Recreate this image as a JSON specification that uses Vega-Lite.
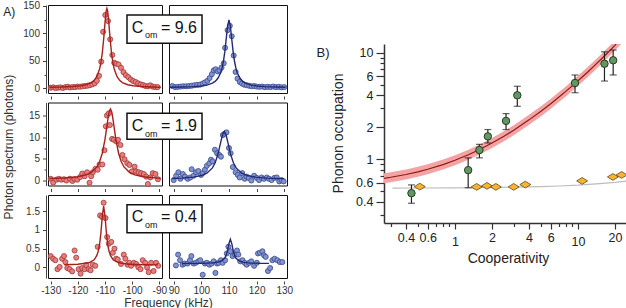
{
  "$schema": "https://vega.github.io/schema/vega-lite/v6.json",
  "padding": {"left": 1, "top": 0, "right": 0, "bottom": 0},
  "background": "white",
  "config": {
    "font": "Liberation Sans",
    "view": {"stroke": "#111", "strokeWidth": 1},
    "axis": {"grid": false, "labelColor": "#333", "tickColor": "#444", "domainColor": "#444", "labelFont": "Liberation Sans", "titleFont": "Liberation Sans", "titleFontWeight": "normal", "titleColor": "#333", "labelFontSize": 10, "labelFlush": false, "labelOverlap": false, "tickWidth": 1, "domainWidth": 1}
  },
  "spacing": 336,
  "bounds": "flush",
  "hconcat": [
    {
      "columns": 2,
      "spacing": {"row": 9.5, "column": 7},
      "bounds": "flush",
      "concat": [
            {
              "width": 114, "height": 88,
              "encoding": {
                "x": {"field": "f", "type": "quantitative", "scale": {"domain": [-131, -89], "nice": false, "zero": false}, "axis": {"values": [-130, -120, -110, -100, -90], "labels": false, "tickSize": 3, "offset": 3, "domain": false, "title": null}},
                "y": {"field": "v", "type": "quantitative", "scale": {"domain": [-8.2, 151.8], "nice": false, "zero": false}, "axis": {"values": [0, 25, 50, 75, 100, 125, 150], "labelExpr": "datum.value % 50 == 0 ? datum.value + '' : ''", "tickSize": {"condition": {"test": "datum.value % 50 == 0", "value": 3.5}, "value": 2}, "offset": 2, "labelPadding": 3, "title": null}}
              },
              "layer": [
                {"data": {"values": [{"f":-130,"v":1.5},{"f":-129.1,"v":2},{"f":-128.2,"v":0.8},{"f":-127.3,"v":1.5},{"f":-126.4,"v":2},{"f":-125.5,"v":1},{"f":-124.6,"v":2.5},{"f":-123.7,"v":3},{"f":-122.8,"v":1.8},{"f":-121.9,"v":2.8},{"f":-121,"v":2.5},{"f":-120.1,"v":3.5},{"f":-119.2,"v":3.2},{"f":-118.3,"v":4},{"f":-117.4,"v":4.5},{"f":-116.5,"v":5},{"f":-115.6,"v":6},{"f":-114.7,"v":7.5},{"f":-113.8,"v":9.5},{"f":-113,"v":14},{"f":-112.2,"v":23},{"f":-111.4,"v":48.8},{"f":-110.7,"v":103},{"f":-109.9,"v":133.6},{"f":-108.9,"v":122.7},{"f":-108.1,"v":89.4},{"f":-107.3,"v":61},{"f":-106.6,"v":46.8},{"f":-105.8,"v":45},{"f":-105,"v":43.6},{"f":-104.1,"v":37.6},{"f":-103.2,"v":29.7},{"f":-102.3,"v":24.2},{"f":-101.4,"v":20.6},{"f":-100.5,"v":16.4},{"f":-99.6,"v":13.6},{"f":-98.7,"v":11.8},{"f":-97.8,"v":9.4},{"f":-96.9,"v":7.6},{"f":-96,"v":6.4},{"f":-95.1,"v":4.5},{"f":-94.2,"v":3.9},{"f":-93.3,"v":5.8},{"f":-92.4,"v":3.3},{"f":-91.5,"v":2.7},{"f":-90.6,"v":2.5}]},
                 "mark": {"type": "circle", "size": 26, "fill": "#ec7b7b", "stroke": "#9b3b3b", "strokeWidth": 0.8, "opacity": 1}},
                {"data": {"values": [{"f":-130.5,"v":2.2},{"f":-126,"v":2.65},{"f":-122,"v":3.5},{"f":-119,"v":4.9},{"f":-117,"v":6.8},{"f":-115,"v":10.8},{"f":-114,"v":14.8},{"f":-113,"v":21.8},{"f":-112,"v":35.5},{"f":-111.5,"v":47.2},{"f":-111,"v":64.5},{"f":-110.5,"v":89.3},{"f":-110,"v":119.7},{"f":-109.6,"v":140},{"f":-109.3,"v":145.5},{"f":-109,"v":140},{"f":-108.6,"v":119.7},{"f":-108.1,"v":89.3},{"f":-107.6,"v":64.5},{"f":-107.1,"v":47.2},{"f":-106.6,"v":35.5},{"f":-105.6,"v":21.8},{"f":-104.6,"v":14.8},{"f":-103.6,"v":10.8},{"f":-101.6,"v":6.8},{"f":-99.6,"v":4.9},{"f":-96.6,"v":3.5},{"f":-92.6,"v":2.65},{"f":-89.5,"v":2.3}]},
                 "mark": {"type": "line", "color": "#a8201a", "strokeWidth": 1.4}},
                {"data": {"values": [{"f": -147.5, "v": 139, "t": "A)"}]},
                 "mark": {"type": "text", "align": "left", "baseline": "middle", "fontSize": 12, "color": "#222"},
                 "encoding": {"text": {"field": "t"}}}
              ]
            },
            {
              "width": 118, "height": 88,
              "encoding": {
                "x": {"field": "f", "type": "quantitative", "scale": {"domain": [88.3, 131], "nice": false, "zero": false}, "axis": {"values": [90, 100, 110, 120, 130], "labels": false, "tickSize": 3, "offset": 3, "domain": false, "title": null}},
                "y": {"field": "v", "type": "quantitative", "scale": {"domain": [-8.2, 151.8], "nice": false, "zero": false}, "axis": null}
              },
              "layer": [
                {"data": {"values": [{"f":89.5,"v":4.5},{"f":90.5,"v":2.5},{"f":91.5,"v":3},{"f":92.5,"v":3.5},{"f":93.5,"v":4},{"f":94.5,"v":4},{"f":95.5,"v":4.5},{"f":96.5,"v":5},{"f":97.5,"v":6},{"f":98.5,"v":6.5},{"f":99.5,"v":7},{"f":100.5,"v":9},{"f":101.3,"v":11},{"f":102.2,"v":14},{"f":103,"v":19},{"f":103.8,"v":26},{"f":104.5,"v":33},{"f":105.2,"v":35},{"f":105.9,"v":31},{"f":106.6,"v":33},{"f":107.3,"v":38},{"f":108.1,"v":46},{"f":108.6,"v":74},{"f":109.5,"v":106},{"f":110.3,"v":114},{"f":111,"v":95},{"f":111.7,"v":60},{"f":112.4,"v":30},{"f":113.1,"v":18},{"f":113.9,"v":12},{"f":114.7,"v":9},{"f":115.5,"v":7},{"f":116.4,"v":6},{"f":117.3,"v":5},{"f":118.2,"v":4},{"f":119.1,"v":4.5},{"f":120,"v":3.5},{"f":121,"v":3},{"f":122,"v":3.5},{"f":123,"v":2.5},{"f":124,"v":3},{"f":125,"v":2.5},{"f":126,"v":3.5},{"f":127,"v":2.5},{"f":128,"v":3},{"f":129,"v":2},{"f":130,"v":2.5}]},
                 "mark": {"type": "circle", "size": 26, "fill": "#7f93d4", "stroke": "#3c4a86", "strokeWidth": 0.8, "opacity": 1}},
                {"data": {"values": [{"f":88.5,"v":2.2},{"f":93,"v":2.6},{"f":97,"v":3.3},{"f":100,"v":4.6},{"f":102,"v":6.2},{"f":104,"v":9.7},{"f":105,"v":12.9},{"f":106,"v":18.5},{"f":107,"v":28.7},{"f":107.5,"v":37.3},{"f":108,"v":49.5},{"f":108.5,"v":67},{"f":109,"v":90},{"f":109.5,"v":113.5},{"f":110,"v":124.5},{"f":110.5,"v":113.5},{"f":111,"v":90},{"f":111.5,"v":67},{"f":112,"v":49.5},{"f":112.5,"v":37.3},{"f":113,"v":28.7},{"f":114,"v":18.5},{"f":115,"v":12.9},{"f":116,"v":9.7},{"f":118,"v":6.2},{"f":120,"v":4.6},{"f":123,"v":3.3},{"f":127,"v":2.6},{"f":130.5,"v":2.2}]},
                 "mark": {"type": "line", "color": "#232a78", "strokeWidth": 1.4}},
                {"data": {"values": [{"f": 73.1, "f2": 100.25, "v": 82.2, "v2": 133.6}]},
                 "mark": {"type": "rect", "fill": "white", "stroke": "#111", "strokeWidth": 1.5},
                 "encoding": {"x2": {"field": "f2"}, "y2": {"field": "v2"}}},
                {"data": {"values": [{"f": 74.8, "v": 101.5, "t": "C"}, {"f": 85.4, "v": 101.5, "t": "= 9.6"}]},
                 "mark": {"type": "text", "align": "left", "baseline": "alphabetic", "fontSize": 16, "color": "#111"},
                 "encoding": {"text": {"field": "t"}}},
                {"data": {"values": [{"f": 79.6, "v": 91.3, "t": "om"}]},
                 "mark": {"type": "text", "align": "left", "baseline": "alphabetic", "fontSize": 9, "color": "#111"},
                 "encoding": {"text": {"field": "t"}}}
              ]
            },
            {
              "width": 114, "height": 83,
              "encoding": {
                "x": {"field": "f", "type": "quantitative", "scale": {"domain": [-131, -89], "nice": false, "zero": false}, "axis": {"values": [-130, -120, -110, -100, -90], "labels": false, "tickSize": 3, "offset": 3, "domain": false, "title": null}},
                "y": {"field": "v", "type": "quantitative", "scale": {"domain": [-1.15, 18.0], "nice": false, "zero": false}, "axis": {"values": [0, 2.5, 5, 7.5, 10, 12.5, 15], "labelExpr": "datum.value % 5 == 0 ? datum.value + '' : ''", "tickSize": {"condition": {"test": "datum.value % 5 == 0", "value": 3.5}, "value": 2}, "offset": 2, "labelPadding": 3, "title": "Photon spectrum (photons)", "titleFontSize": 12, "titleX": -38, "titleY": 44, "titleBaseline": "middle"}}
              },
              "layer": [
                {"data": {"values": [{"f":-130,"v":0.4},{"f":-129.1,"v":-0.5},{"f":-127.9,"v":0.2},{"f":-127,"v":0.4},{"f":-126.1,"v":0.2},{"f":-125.1,"v":0.3},{"f":-124.2,"v":0},{"f":-123,"v":0.4},{"f":-122,"v":-0.1},{"f":-121.2,"v":0.3},{"f":-120.2,"v":0.2},{"f":-119.2,"v":0.8},{"f":-118.4,"v":1.6},{"f":-117.5,"v":1.0},{"f":-116.6,"v":1.9},{"f":-115.7,"v":-0.5},{"f":-115.1,"v":1.0},{"f":-114.5,"v":1.9},{"f":-113.5,"v":2.7},{"f":-112.7,"v":2.5},{"f":-112,"v":3.7},{"f":-111,"v":3.7},{"f":-110.2,"v":7.0},{"f":-109.7,"v":12.5},{"f":-109.3,"v":15.0},{"f":-108.6,"v":15.5},{"f":-108.2,"v":12.8},{"f":-107.4,"v":9.6},{"f":-106.7,"v":9.4},{"f":-105.8,"v":9.0},{"f":-105.2,"v":9.4},{"f":-104.3,"v":8.2},{"f":-103.6,"v":5.9},{"f":-102.8,"v":4.9},{"f":-101.8,"v":4.0},{"f":-101,"v":3.6},{"f":-100.1,"v":2.1},{"f":-99.1,"v":3.2},{"f":-98.5,"v":2.1},{"f":-97.6,"v":1.9},{"f":-96.7,"v":1.7},{"f":-95.7,"v":1.5},{"f":-94.8,"v":0.9},{"f":-94.2,"v":-0.8},{"f":-93.3,"v":0.7},{"f":-92.4,"v":1.7},{"f":-91.4,"v":1.5},{"f":-90.5,"v":0.3}]},
                 "mark": {"type": "circle", "size": 26, "fill": "#ec7b7b", "stroke": "#9b3b3b", "strokeWidth": 0.8, "opacity": 1}},
                {"data": {"values": [{"f":-130.5,"v":0.48},{"f":-125,"v":0.59},{"f":-120,"v":0.87},{"f":-117,"v":1.29},{"f":-115,"v":1.88},{"f":-113,"v":3.13},{"f":-112,"v":4.33},{"f":-111,"v":6.3},{"f":-110,"v":9.5},{"f":-109.5,"v":11.7},{"f":-109,"v":13.9},{"f":-108.5,"v":15.8},{"f":-108,"v":16.5},{"f":-107.5,"v":15.8},{"f":-107,"v":13.9},{"f":-106.5,"v":11.7},{"f":-106,"v":9.5},{"f":-105,"v":6.3},{"f":-104,"v":4.33},{"f":-103,"v":3.13},{"f":-101,"v":1.88},{"f":-99,"v":1.29},{"f":-96,"v":0.87},{"f":-91,"v":0.59},{"f":-89.5,"v":0.53}]},
                 "mark": {"type": "line", "color": "#a8201a", "strokeWidth": 1.4}}
              ]
            },
            {
              "width": 118, "height": 83,
              "encoding": {
                "x": {"field": "f", "type": "quantitative", "scale": {"domain": [88.3, 131], "nice": false, "zero": false}, "axis": {"values": [90, 100, 110, 120, 130], "labels": false, "tickSize": 3, "offset": 3, "domain": false, "title": null}},
                "y": {"field": "v", "type": "quantitative", "scale": {"domain": [-1.15, 18.0], "nice": false, "zero": false}, "axis": null}
              },
              "layer": [
                {"data": {"values": [{"f":90,"v":0.1},{"f":90.9,"v":1.1},{"f":91.7,"v":1.9},{"f":92.4,"v":0.4},{"f":93.3,"v":1.5},{"f":94.1,"v":0.9},{"f":95.1,"v":0.4},{"f":96,"v":0.7},{"f":96.5,"v":2.6},{"f":97.2,"v":1.1},{"f":98.1,"v":1.9},{"f":98.9,"v":2.2},{"f":99.9,"v":1.3},{"f":100.5,"v":1.7},{"f":101.3,"v":2.5},{"f":102,"v":3.4},{"f":102.9,"v":4.0},{"f":103.5,"v":4.8},{"f":104.1,"v":4.4},{"f":104.9,"v":7.1},{"f":105.7,"v":6.3},{"f":106.5,"v":5.9},{"f":107.1,"v":5.5},{"f":107.8,"v":10.5},{"f":108.4,"v":10.8},{"f":109.1,"v":11.1},{"f":110,"v":7.5},{"f":110.6,"v":6.3},{"f":111.4,"v":3.1},{"f":112.4,"v":1.9},{"f":113.2,"v":1.3},{"f":113.9,"v":0.7},{"f":114.8,"v":1.7},{"f":115.7,"v":0.4},{"f":116.4,"v":0.9},{"f":117.2,"v":0.6},{"f":118.1,"v":0},{"f":119.1,"v":1.1},{"f":120.1,"v":0.6},{"f":120.9,"v":0.1},{"f":121.8,"v":0.7},{"f":122.7,"v":0.4},{"f":123.7,"v":0.7},{"f":124.5,"v":0.4},{"f":125.4,"v":0.1},{"f":126.4,"v":0.6},{"f":127.3,"v":0.7},{"f":128.2,"v":-0.2},{"f":129,"v":0.1},{"f":129.8,"v":-0.2}]},
                 "mark": {"type": "circle", "size": 26, "fill": "#7f93d4", "stroke": "#3c4a86", "strokeWidth": 0.8, "opacity": 1}},
                {"data": {"values": [{"f":89.5,"v":0.47},{"f":93,"v":0.56},{"f":97,"v":0.77},{"f":100,"v":1.15},{"f":102,"v":1.69},{"f":104,"v":2.91},{"f":105,"v":4.1},{"f":106,"v":6.03},{"f":107,"v":8.8},{"f":107.7,"v":10.65},{"f":108.3,"v":11.3},{"f":108.9,"v":10.65},{"f":109.6,"v":8.8},{"f":110.6,"v":6.03},{"f":111.6,"v":4.1},{"f":112.6,"v":2.91},{"f":114.6,"v":1.69},{"f":116.6,"v":1.15},{"f":119.6,"v":0.77},{"f":123.6,"v":0.56},{"f":130,"v":0.43}]},
                 "mark": {"type": "line", "color": "#232a78", "strokeWidth": 1.4}},
                {"data": {"values": [{"f": 73.1, "f2": 100.25, "v": 9.53, "v2": 15.53}]},
                 "mark": {"type": "rect", "fill": "white", "stroke": "#111", "strokeWidth": 1.5},
                 "encoding": {"x2": {"field": "f2"}, "y2": {"field": "v2"}}},
                {"data": {"values": [{"f": 74.8, "v": 11.45, "t": "C"}, {"f": 85.4, "v": 11.45, "t": "= 1.9"}]},
                 "mark": {"type": "text", "align": "left", "baseline": "alphabetic", "fontSize": 16, "color": "#111"},
                 "encoding": {"text": {"field": "t"}}},
                {"data": {"values": [{"f": 79.6, "v": 10.15, "t": "om"}]},
                 "mark": {"type": "text", "align": "left", "baseline": "alphabetic", "fontSize": 9, "color": "#111"},
                 "encoding": {"text": {"field": "t"}}}
              ]
            },
            {
              "width": 114, "height": 83,
              "encoding": {
                "x": {"field": "f", "type": "quantitative", "scale": {"domain": [-131, -89], "nice": false, "zero": false}, "axis": {"values": [-130, -120, -110, -100, -90], "labelExpr": "datum.value + ''", "labelPadding": 1, "tickSize": 3, "offset": 3, "domain": false, "title": "Frequency (kHz)", "titleFontSize": 12, "titleX": 120, "titleY": 21, "titleBaseline": "middle"}},
                "y": {"field": "v", "type": "quantitative", "scale": {"domain": [-0.287, 1.937], "nice": false, "zero": false}, "axis": {"values": [0, 0.5, 1, 1.5], "labelExpr": "datum.value + ''", "tickSize": 3.5, "offset": 2, "labelPadding": 3, "title": null}}
              },
              "layer": [
                {"data": {"values": [{"f":-130,"v":0.30},{"f":-129.1,"v":0.23},{"f":-128.3,"v":0.19},{"f":-127.5,"v":-0.05},{"f":-126.7,"v":0.01},{"f":-125.8,"v":0.23},{"f":-125.1,"v":0.30},{"f":-124.6,"v":0.14},{"f":-123.9,"v":-0.02},{"f":-123,"v":-0.05},{"f":-122.1,"v":-0.11},{"f":-121.2,"v":0.45},{"f":-120.6,"v":0.26},{"f":-119.7,"v":-0.05},{"f":-119,"v":-0.17},{"f":-118.4,"v":-0.02},{"f":-117.5,"v":-0.05},{"f":-116.9,"v":0.06},{"f":-116,"v":-0.05},{"f":-115.3,"v":-0.08},{"f":-114.5,"v":0.07},{"f":-113.6,"v":0.04},{"f":-112.7,"v":0.55},{"f":-111.8,"v":1.39},{"f":-111.1,"v":1.35},{"f":-110.5,"v":1.73},{"f":-109.8,"v":1.32},{"f":-109.2,"v":0.81},{"f":-108.6,"v":0.63},{"f":-107.7,"v":0.68},{"f":-107.1,"v":0.39},{"f":-106.5,"v":0.5},{"f":-105.9,"v":0.23},{"f":-105.3,"v":0.21},{"f":-104.1,"v":0.09},{"f":-103.1,"v":0.34},{"f":-102.5,"v":0.23},{"f":-101.7,"v":0.07},{"f":-101,"v":0.12},{"f":-100.4,"v":0.04},{"f":-99.4,"v":0.12},{"f":-98.5,"v":0.09},{"f":-97.7,"v":0.0},{"f":-96.9,"v":-0.05},{"f":-96.1,"v":0.19},{"f":-95.2,"v":0.12},{"f":-94.5,"v":0.0},{"f":-93.9,"v":-0.13},{"f":-93,"v":0.12},{"f":-92.1,"v":-0.1},{"f":-91.2,"v":0.12},{"f":-90.4,"v":0.04}]},
                 "mark": {"type": "circle", "size": 26, "fill": "#ec7b7b", "stroke": "#9b3b3b", "strokeWidth": 0.8, "opacity": 1}},
                {"data": {"values": [{"f":-125,"v":0.07},{"f":-120,"v":0.08},{"f":-116,"v":0.12},{"f":-114,"v":0.20},{"f":-113,"v":0.32},{"f":-112.5,"v":0.43},{"f":-112,"v":0.61},{"f":-111.5,"v":0.93},{"f":-111,"v":1.37},{"f":-110.5,"v":1.64},{"f":-110,"v":1.37},{"f":-109.5,"v":0.93},{"f":-109,"v":0.61},{"f":-108.5,"v":0.43},{"f":-108,"v":0.32},{"f":-107,"v":0.20},{"f":-105,"v":0.12},{"f":-101,"v":0.08},{"f":-95,"v":0.067},{"f":-90.5,"v":0.064}]},
                 "mark": {"type": "line", "color": "#a8201a", "strokeWidth": 1.4}}
              ]
            },
            {
              "width": 118, "height": 83,
              "encoding": {
                "x": {"field": "f", "type": "quantitative", "scale": {"domain": [88.3, 131], "nice": false, "zero": false}, "axis": {"values": [90, 100, 110, 120, 130], "labelExpr": "datum.value + ''", "labelPadding": 1, "tickSize": 3, "offset": 3, "domain": false, "title": null}},
                "y": {"field": "v", "type": "quantitative", "scale": {"domain": [-0.287, 1.937], "nice": false, "zero": false}, "axis": null}
              },
              "layer": [
                {"data": {"values": [{"f":90.8,"v":0.05},{"f":91.6,"v":0.34},{"f":92.3,"v":0.19},{"f":93.2,"v":0.07},{"f":94,"v":0.1},{"f":95,"v":0.1},{"f":95.9,"v":0.19},{"f":96.4,"v":0.3},{"f":97.2,"v":0.1},{"f":98,"v":0.12},{"f":98.9,"v":0.16},{"f":99.6,"v":0.19},{"f":100.5,"v":-0.2},{"f":101.3,"v":0.1},{"f":102,"v":0.12},{"f":102.9,"v":0.07},{"f":103.7,"v":0.1},{"f":104.5,"v":0.16},{"f":105.1,"v":-0.15},{"f":105.7,"v":0.1},{"f":106.3,"v":0.12},{"f":107.1,"v":0.19},{"f":107.7,"v":0.12},{"f":108.6,"v":0.19},{"f":109.2,"v":0.37},{"f":109.8,"v":0.55},{"f":110.5,"v":0.43},{"f":111.3,"v":0.3},{"f":112.2,"v":0.34},{"f":112.9,"v":0.45},{"f":113.4,"v":0.34},{"f":114.1,"v":0.16},{"f":114.9,"v":0.19},{"f":115.7,"v":0.12},{"f":116.4,"v":0.07},{"f":117.3,"v":0.12},{"f":118.1,"v":0.16},{"f":119.1,"v":0.04},{"f":120.1,"v":0.12},{"f":120.5,"v":0.37},{"f":121.2,"v":0.39},{"f":122.1,"v":0.43},{"f":122.7,"v":0.32},{"f":123.3,"v":0.28},{"f":124.1,"v":-0.1},{"f":124.9,"v":-0.02},{"f":125.7,"v":0.19},{"f":126.5,"v":0.23},{"f":127.5,"v":0.19},{"f":128.4,"v":0.14},{"f":129.3,"v":0.14}]},
                 "mark": {"type": "circle", "size": 26, "fill": "#7f93d4", "stroke": "#3c4a86", "strokeWidth": 0.8, "opacity": 1}},
                {"data": {"values": [{"f":93,"v":0.1},{"f":100,"v":0.107},{"f":104,"v":0.118},{"f":106,"v":0.137},{"f":107.5,"v":0.18},{"f":108.5,"v":0.25},{"f":109,"v":0.33},{"f":109.5,"v":0.46},{"f":110,"v":0.64},{"f":110.5,"v":0.75},{"f":111,"v":0.64},{"f":111.5,"v":0.46},{"f":112,"v":0.33},{"f":112.5,"v":0.25},{"f":113.5,"v":0.18},{"f":115,"v":0.137},{"f":117,"v":0.118},{"f":121,"v":0.107},{"f":124.5,"v":0.104}]},
                 "mark": {"type": "line", "color": "#232a78", "strokeWidth": 1.4}},
                {"data": {"values": [{"f": 73.1, "f2": 100.25, "v": 0.927, "v2": 1.677}]},
                 "mark": {"type": "rect", "fill": "white", "stroke": "#111", "strokeWidth": 1.5},
                 "encoding": {"x2": {"field": "f2"}, "y2": {"field": "v2"}}},
                {"data": {"values": [{"f": 74.8, "v": 1.203, "t": "C"}, {"f": 85.4, "v": 1.203, "t": "= 0.4"}]},
                 "mark": {"type": "text", "align": "left", "baseline": "alphabetic", "fontSize": 16, "color": "#111"},
                 "encoding": {"text": {"field": "t"}}},
                {"data": {"values": [{"f": 79.6, "v": 1.053, "t": "om"}]},
                 "mark": {"type": "text", "align": "left", "baseline": "alphabetic", "fontSize": 9, "color": "#111"},
                 "encoding": {"text": {"field": "t"}}}
              ]
            }
      ]
    },
    {
      "width": 243, "height": 218,
      "view": {"stroke": null},
      "layer": [
        {"data": {"values": [{"C":0.265,"lo":0.594,"hi":0.737},{"C":0.3,"lo":0.608,"hi":0.754},{"C":0.4,"lo":0.645,"hi":0.801},{"C":0.5,"lo":0.684,"hi":0.849},{"C":0.6,"lo":0.723,"hi":0.897},{"C":0.8,"lo":0.8,"hi":0.993},{"C":1,"lo":0.877,"hi":1.088},{"C":1.3,"lo":0.995,"hi":1.234},{"C":1.6,"lo":1.113,"hi":1.381},{"C":2,"lo":1.273,"hi":1.58},{"C":2.5,"lo":1.476,"hi":1.831},{"C":3,"lo":1.681,"hi":2.087},{"C":4,"lo":2.102,"hi":2.609},{"C":5,"lo":2.536,"hi":3.147},{"C":6,"lo":2.982,"hi":3.701},{"C":7,"lo":3.441,"hi":4.27},{"C":8,"lo":3.912,"hi":4.855},{"C":10,"lo":4.892,"hi":6.071},{"C":12,"lo":5.923,"hi":7.35},{"C":14,"lo":7.004,"hi":8.691},{"C":16,"lo":8.135,"hi":10.095},{"C":18,"lo":9.316,"hi":11.561},{"C":18.65,"lo":9.726,"hi":12.07},{"C":19,"lo":9.925,"hi":12.07},{"C":20,"lo":10.548,"hi":12.07},{"C":22,"lo":11.83,"hi":12.07},{"C":22.4,"lo":12.07,"hi":12.07}]},
         "mark": {"type": "area", "color": "#f4a3a3", "opacity": 1},
         "encoding": {
           "x": {"field": "C", "type": "quantitative", "scale": {"type": "log", "domain": [0.265, 25], "nice": false},
                 "axis": {"values": [0.3,0.4,0.5,0.6,0.7,0.8,0.9,1,2,3,4,5,6,7,8,9,10,20], "labelExpr": "indexof([0.4,0.6,1,2,4,6,10,20], datum.value) >= 0 ? datum.value + '' : ''", "tickSize": {"condition": {"test": "indexof([0.4,0.6,1,2,4,6,10,20], datum.value) >= 0", "value": 6}, "value": 3.5}, "labelPadding": {"condition": {"test": "datum.value == 1 || datum.value == 10", "value": 6}, "value": 2}, "labelFontSize": 12.5, "labelColor": "#222", "tickColor": "#333", "domainColor": "#333", "domainWidth": 1.5, "tickWidth": 1.2, "title": "Cooperativity", "titleFontSize": 14, "titleColor": "#222", "titleX": 124, "titleY": 35, "titleBaseline": "middle"}},
           "y": {"field": "lo", "type": "quantitative", "scale": {"type": "log", "domain": [0.252, 12.07], "nice": false, "range": [218, 39]},
                 "axis": {"values": [0.3,0.4,0.5,0.6,0.7,0.8,0.9,1,2,3,4,5,6,7,8,9,10], "labelExpr": "indexof([0.4,0.6,1,2,4,6,10], datum.value) >= 0 ? datum.value + '' : ''", "tickSize": {"condition": {"test": "indexof([0.4,0.6,1,2,4,6,10], datum.value) >= 0", "value": 8}, "value": 4}, "labelPadding": 3, "labelFontSize": 12.5, "labelColor": "#222", "tickColor": "#333", "domainColor": "#333", "domainWidth": 1.5, "tickWidth": 1.2, "title": "Phonon occupation", "titleFontSize": 14, "titleColor": "#222", "titleX": -46, "titleY": 128, "titleBaseline": "middle"}},
           "y2": {"field": "hi"}
         }},
        {"data": {"values": [{"C":0.265,"n":0.662},{"C":0.3,"n":0.677},{"C":0.4,"n":0.719},{"C":0.5,"n":0.762},{"C":0.6,"n":0.805},{"C":0.8,"n":0.891},{"C":1,"n":0.977},{"C":1.3,"n":1.108},{"C":1.6,"n":1.24},{"C":2,"n":1.418},{"C":2.5,"n":1.644},{"C":3,"n":1.873},{"C":4,"n":2.342},{"C":5,"n":2.825},{"C":6,"n":3.322},{"C":7,"n":3.833},{"C":8,"n":4.358},{"C":10,"n":5.45},{"C":12,"n":6.598},{"C":14,"n":7.802},{"C":16,"n":9.062},{"C":18,"n":10.378},{"C":20.4,"n":12.03}]},
         "mark": {"type": "line", "color": "#8e1a1a", "strokeWidth": 1.2},
         "encoding": {"x": {"field": "C", "type": "quantitative", "title": "Cooperativity"}, "y": {"field": "n", "type": "quantitative", "title": "Phonon occupation"}}},
        {"data": {"values": [{"C":0.31,"n":0.536},{"C":0.5,"n":0.537},{"C":1,"n":0.539},{"C":2,"n":0.543},{"C":3,"n":0.547},{"C":5,"n":0.554},{"C":7,"n":0.561},{"C":10,"n":0.571},{"C":15,"n":0.589},{"C":20,"n":0.606},{"C":25,"n":0.624}]},
         "mark": {"type": "line", "color": "#bdbdbd", "strokeWidth": 1.2},
         "encoding": {"x": {"field": "C", "type": "quantitative", "title": "Cooperativity"}, "y": {"field": "n", "type": "quantitative", "title": "Phonon occupation"}}},
        {"data": {"name": "green", "values": [{"C":0.443,"n":0.48,"lo":0.386,"hi":0.574},{"C":1.28,"n":0.79,"lo":0.54,"hi":1.03},{"C":1.58,"n":1.22,"lo":1.03,"hi":1.38},{"C":1.85,"n":1.64,"lo":1.42,"hi":1.9},{"C":2.6,"n":2.29,"lo":1.9,"hi":2.68},{"C":3.21,"n":3.98,"lo":3.14,"hi":4.84},{"C":9.45,"n":5.2,"lo":4.21,"hi":6.18},{"C":16.4,"n":7.88,"lo":5.42,"hi":10.2},{"C":19.3,"n":8.49,"lo":6.18,"hi":10.6}]},
         "mark": {"type": "rule", "color": "#222", "strokeWidth": 1.2},
         "encoding": {"x": {"field": "C", "type": "quantitative", "title": "Cooperativity"}, "y": {"field": "lo", "type": "quantitative", "title": "Phonon occupation"}, "y2": {"field": "hi"}}},
        {"data": {"name": "green"},
         "mark": {"type": "tick", "orient": "horizontal", "size": 7, "thickness": 1.2, "color": "#222"},
         "encoding": {"x": {"field": "C", "type": "quantitative", "title": "Cooperativity"}, "y": {"field": "lo", "type": "quantitative", "title": "Phonon occupation"}}},
        {"data": {"name": "green"},
         "mark": {"type": "tick", "orient": "horizontal", "size": 7, "thickness": 1.2, "color": "#222"},
         "encoding": {"x": {"field": "C", "type": "quantitative", "title": "Cooperativity"}, "y": {"field": "hi", "type": "quantitative", "title": "Phonon occupation"}}},
        {"data": {"name": "green"},
         "mark": {"type": "circle", "size": 55, "fill": "#5f995f", "stroke": "#2a3a2a", "strokeWidth": 1, "opacity": 1},
         "encoding": {"x": {"field": "C", "type": "quantitative", "title": "Cooperativity"}, "y": {"field": "n", "type": "quantitative", "title": "Phonon occupation"}}},
        {"data": {"values": [{"C":0.518,"n":0.553},{"C":1.5,"n":0.55},{"C":1.82,"n":0.562},{"C":2.15,"n":0.55},{"C":3.0,"n":0.55},{"C":3.73,"n":0.578},{"C":10.8,"n":0.626},{"C":19.2,"n":0.682},{"C":22.6,"n":0.712}]},
         "mark": {"type": "point", "shape": "M -1 0 L 0 -0.62 L 1 0 L 0 0.62 Z", "size": 120, "filled": true, "fill": "#f9b233", "stroke": "#5b4a14", "strokeWidth": 0.8, "opacity": 1},
         "encoding": {"x": {"field": "C", "type": "quantitative", "title": "Cooperativity"}, "y": {"field": "n", "type": "quantitative", "title": "Phonon occupation"}}},
        {"data": {"values": [{"C": 0.0751, "n": 9.94, "t": "B)"}]},
         "mark": {"type": "text", "align": "left", "baseline": "middle", "fontSize": 13, "color": "#222"},
         "encoding": {"x": {"field": "C", "type": "quantitative", "title": "Cooperativity"}, "y": {"field": "n", "type": "quantitative", "title": "Phonon occupation"}, "text": {"field": "t"}}}
      ]
    }
  ]
}
